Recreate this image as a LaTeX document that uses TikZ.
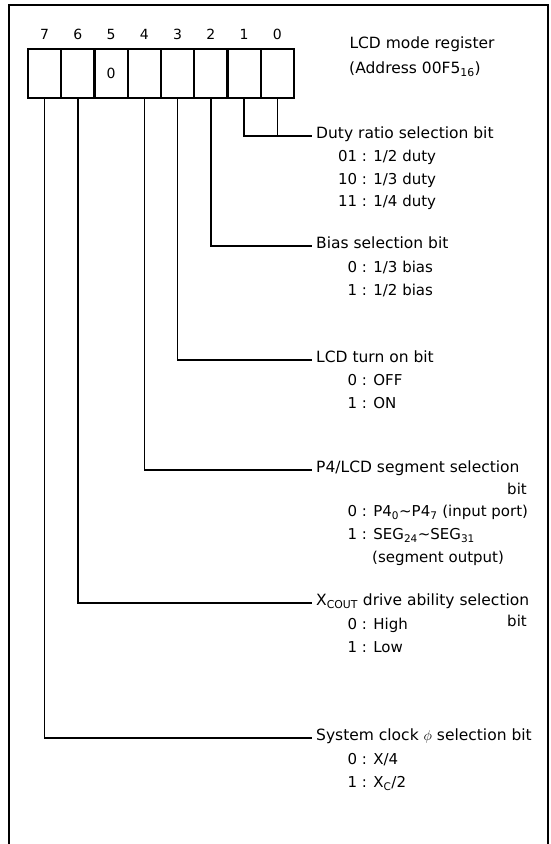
\documentclass[tikz,border=0pt]{standalone}
\usepackage{fontspec}
\setmainfont{DejaVu Sans}
\usetikzlibrary{positioning}
\newcommand{\bitval}[2]{\makebox[19pt][r]{#1} : #2}

\begin{document}
\begin{tikzpicture}[
    x=1pt, y=-1pt,
    cell/.style = {rectangle, draw, line width=2.4pt, minimum width=33.25pt,
                   minimum height=49pt, inner sep=0pt, outer sep=0pt,
                   font=\fontsize{14}{16}\selectfont},
    bitnum/.style = {inner sep=0pt, font=\fontsize{14}{16}\selectfont},
    heading/.style = {anchor=mid, inner sep=0pt, font=\fontsize{15.5}{18}\selectfont},
    field/.style = {anchor=mid west, inner xsep=4pt, inner ysep=0pt,
                    font=\fontsize{15.5}{18}\selectfont},
    choice/.style = {anchor=mid west, inner sep=0pt,
                     font=\fontsize{15}{18}\selectfont},
    wire/.style = {line width=1.6pt},
    frame/.style = {line width=2.6pt}
  ]
  \useasboundingbox (0,0) rectangle (551,844);
  \draw[frame] (9,844) -- (9,5) -- (548,5) -- (548,844);

  % register, bit 7 on the left
  \node[cell, anchor=north west] (b7) at (28,49) {};
  \node[cell, right=0pt of b7] (b6) {};
  \node[cell, right=0pt of b6] (b5) {0};
  \node[cell, right=0pt of b5] (b4) {};
  \node[cell, right=0pt of b4] (b3) {};
  \node[cell, right=0pt of b3] (b2) {};
  \node[cell, right=0pt of b2] (b1) {};
  \node[cell, right=0pt of b1] (b0) {};

  \node[bitnum, above=9pt of b7] (n7) {7};
  \node[bitnum, above=9pt of b6] (n6) {6};
  \node[bitnum, above=9pt of b5] (n5) {5};
  \node[bitnum, above=9pt of b4] (n4) {4};
  \node[bitnum, above=9pt of b3] (n3) {3};
  \node[bitnum, above=9pt of b2] (n2) {2};
  \node[bitnum, above=9pt of b1] (n1) {1};
  \node[bitnum, above=9pt of b0] (n0) {0};

  \node[heading] (title) at (422,46) {LCD mode register};
  \node[heading] (addr)  at (415,71) {(Address 00F5\textsubscript{16})};

  % bit fields
  \node[field] (duty)   at (312,136) {Duty ratio selection bit};
  \node[choice] (duty1) at (338,159) {\bitval{01}{1/2 duty}};
  \node[choice] (duty2) at (338,182) {\bitval{10}{1/3 duty}};
  \node[choice] (duty3) at (338,204) {\bitval{11}{1/4 duty}};

  \node[field] (bias)   at (312,246) {Bias selection bit};
  \node[choice] (bias1) at (338,270) {\bitval{0}{1/3 bias}};
  \node[choice] (bias2) at (338,293) {\bitval{1}{1/2 bias}};

  \node[field] (lcdon)   at (312,360) {LCD turn on bit};
  \node[choice] (lcdon1) at (338,383) {\bitval{0}{OFF}};
  \node[choice] (lcdon2) at (338,406) {\bitval{1}{ON}};

  \node[field] (segsel)   at (312,470) {P4/LCD segment selection};
  \node[choice, anchor=mid east] (segbit) at (527,492) {bit};
  \node[choice] (segsel1) at (338,514)
    {\bitval{0}{P4\textsubscript{0}∼P4\textsubscript{7} (input port)}};
  \node[choice] (segsel2) at (338,537)
    {\bitval{1}{SEG\textsubscript{24}∼SEG\textsubscript{31}}};
  \node[choice] (segsel3) at (372,560) {(segment output)};

  \node[field] (xcout)   at (312,603) {X\textsubscript{COUT} drive ability selection};
  \node[choice, anchor=mid east] (xcoutbit) at (527,624) {bit};
  \node[choice] (xcout1) at (338,627) {\bitval{0}{High}};
  \node[choice] (xcout2) at (338,650) {\bitval{1}{Low}};

  \node[field] (sysclk)   at (312,738) {System clock $\phi$ selection bit};
  \node[choice] (sysclk1) at (338,762) {\bitval{0}{X/4}};
  \node[choice] (sysclk2) at (338,785) {\bitval{1}{X\textsubscript{C}/2}};

  % leader lines
  \draw[wire] (b1.south) |- (duty.mid west);
  \draw[wire] (b0.south) -- (b0.south |- duty.mid west);
  \draw[wire] (b2.south) |- (bias.mid west);
  \draw[wire] (b3.south) |- (lcdon.mid west);
  \draw[wire] (b4.south) |- (segsel.mid west);
  \draw[wire] (b6.south) |- (xcout.mid west);
  \draw[wire] (b7.south) |- (sysclk.mid west);
\end{tikzpicture}
\end{document}
